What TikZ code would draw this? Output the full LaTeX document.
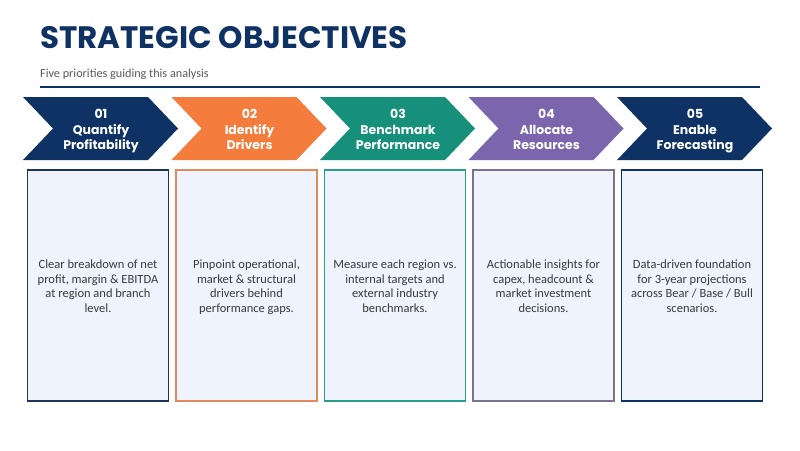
\documentclass[tikz,border=0pt]{standalone}
\usepackage{fontspec}
\setmainfont{Carlito}
\newfontfamily\popf{Poppins}
\definecolor{navy}{HTML}{0F3264}
\definecolor{orng}{HTML}{F47C3C}
\definecolor{teal}{HTML}{16907A}
\definecolor{purp}{HTML}{7B65AC}
\definecolor{boxfill}{HTML}{EEF3FD}
\definecolor{bnavy}{HTML}{1F3556}
\definecolor{borng}{HTML}{E08A5E}
\definecolor{bteal}{HTML}{2A9C88}
\definecolor{bpurp}{HTML}{7A7290}
\definecolor{bodytxt}{HTML}{3A3A3A}
\definecolor{subtxt}{HTML}{5A5A5A}
\tikzset{
  chevtext/.style={text=white, align=center, font=\popf\bfseries\fontsize{12.5}{15.5}\selectfont},
  descbox/.style={draw, line width=1.3pt, fill=boxfill, minimum width=141pt, minimum height=231pt, inner sep=0pt},
  desctext/.style={text=bodytxt, align=center, font=\fontsize{12.5}{14.5}\selectfont},
}
\begin{document}
\begin{tikzpicture}[x=1pt,y=-1pt]
\useasboundingbox (0,0) rectangle (800,450);
\fill[white] (0,0) rectangle (800,450);
\node[anchor=base west, inner sep=0pt, text=navy, font=\popf\bfseries\fontsize{31}{33}\selectfont] (title) at (40,48) {STRATEGIC OBJECTIVES};
\node[anchor=west, inner sep=0pt, text=subtxt, font=\fontsize{12.2}{13}\selectfont] (sub) at (40,74) {Five priorities guiding this analysis};
\draw[navy, line width=2pt] (40,87) coordinate (rl) -- (760,87) coordinate (rr);
\foreach \i/\L/\col/\bcol/\head/\desc in {
  1/23/navy/bnavy/{01\\Quantify\\Profitability}/{Clear breakdown of net\\profit, margin \& EBITDA\\at region and branch\\level.},
  2/171.5/orng/borng/{02\\Identify\\Drivers}/{Pinpoint operational,\\market \& structural\\drivers behind\\performance gaps.},
  3/320/teal/bteal/{03\\Benchmark\\Performance}/{Measure each region vs.\\internal targets and\\external industry\\benchmarks.},
  4/468.5/purp/bpurp/{04\\Allocate\\Resources}/{Actionable insights for\\capex, headcount \&\\market investment\\decisions.},
  5/617/navy/navy/{05\\Enable\\Forecasting}/{Data-driven foundation\\for 3-year projections\\across Bear / Base / Bull\\scenarios.}}
{
  \fill[\col] (\L,97) -- ({\L+125},97) -- ({\L+155},128.5) -- ({\L+125},160) -- (\L,160) -- ({\L+30},128.5) -- cycle;
  \node[chevtext] (c\i) at ({\L+78},131) {\strut\head\strut};
  \node[descbox, draw=\bcol] (b\i) at ({\L+75},285.5) {};
  \node[desctext] (t\i) at ([yshift=-2pt]b\i.center) {\strut\desc\strut};
}
\end{tikzpicture}
\end{document}
